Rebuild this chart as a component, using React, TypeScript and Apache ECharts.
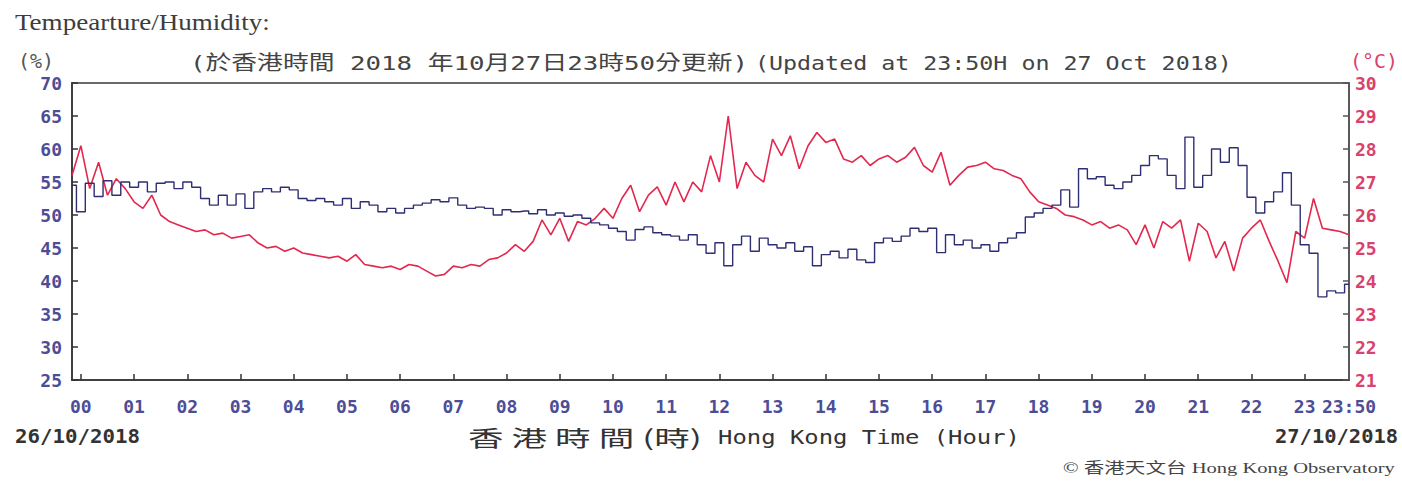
import React, { useEffect, useRef } from "react";
import * as echarts from "echarts";

// 10-minute samples from 23:50 (26/10 eve) to 23:50 (27/10)
const START_MINUTE = -10;
const STEP_MINUTES = 10;

const HUMIDITY = [
  54.5, 50.5, 54.8, 52.8, 55.2, 53.0, 55.0, 54.2, 55.0, 53.5,
  54.8, 55.0, 54.0, 55.0, 54.2, 52.5, 51.5, 53.0, 51.5, 53.2,
  51.0, 53.5, 54.0, 53.5, 54.2, 53.8, 52.5, 52.2, 52.5, 52.0,
  51.5, 52.5, 51.0, 52.0, 51.5, 50.5, 51.0, 50.3, 51.0, 51.5,
  51.8, 52.3, 52.0, 52.6, 51.5, 51.0, 51.2, 51.0, 50.0, 50.8,
  50.5, 50.6, 50.2, 50.8, 50.0, 50.3, 49.8, 50.0, 49.5, 48.8,
  48.5, 48.0, 47.5, 46.2, 47.8, 48.2, 47.3, 47.0, 46.8, 46.2,
  47.0, 45.5, 44.2, 45.8, 42.3, 45.5, 46.8, 44.5, 46.5, 45.5,
  45.0, 45.8, 44.5, 45.2, 42.3, 44.0, 44.5, 43.5, 44.8, 43.2,
  42.8, 45.8, 46.5, 46.0, 46.8, 48.0, 47.5, 48.0, 44.3, 47.0,
  45.5, 46.2, 45.0, 45.5, 44.5, 45.8, 46.5, 47.3, 49.7, 50.3,
  51.0, 51.5, 53.8, 51.2, 57.0, 55.5, 55.8, 54.5, 54.0, 55.0,
  56.0, 57.5, 59.0, 58.5, 56.0, 54.0, 61.8, 54.2, 56.0, 60.0,
  58.0, 60.2, 57.5, 52.7, 50.3, 52.0, 53.5, 56.4, 51.5, 45.5,
  44.2, 37.6, 38.5, 38.2, 39.5,
];

const TEMPERATURE = [
  27.2, 28.1, 26.8, 27.6, 26.6, 27.1, 26.8, 26.4, 26.2, 26.6,
  26.0, 25.8, 25.7, 25.6, 25.5, 25.55, 25.4, 25.45, 25.3, 25.35,
  25.4, 25.15, 25.0, 25.05, 24.9, 25.0, 24.85, 24.8, 24.75, 24.7,
  24.75, 24.6, 24.8, 24.5, 24.45, 24.4, 24.45, 24.35, 24.5, 24.45,
  24.3, 24.15, 24.2, 24.45, 24.4, 24.5, 24.45, 24.65, 24.7, 24.85,
  25.1, 24.9, 25.2, 25.85, 25.4, 25.9, 25.2, 25.8, 25.7, 25.9,
  26.2, 25.9, 26.5, 26.9, 26.1, 26.6, 26.85, 26.3, 27.0, 26.4,
  27.0, 26.7, 27.8, 27.0, 29.0, 26.8, 27.6, 27.2, 27.0, 28.3,
  27.8, 28.4, 27.4, 28.1, 28.5, 28.2, 28.3, 27.7, 27.6, 27.8,
  27.5, 27.7, 27.8, 27.6, 27.75, 28.05, 27.5, 27.3, 27.9, 26.9,
  27.2, 27.45, 27.5, 27.6, 27.4, 27.35, 27.2, 27.1, 26.7, 26.4,
  26.3, 26.2, 26.0, 25.95, 25.85, 25.7, 25.8, 25.6, 25.7, 25.55,
  25.1, 25.7, 25.0, 25.8, 25.6, 25.85, 24.6, 25.75, 25.5, 24.7,
  25.2, 24.3, 25.3, 25.6, 25.85, 25.2, 24.6, 23.95, 25.5, 25.3,
  26.5, 25.6, 25.55, 25.5, 25.4,
];

const HOUR_LABELS = [
  "00", "01", "02", "03", "04", "05", "06", "07", "08", "09", "10", "11",
  "12", "13", "14", "15", "16", "17", "18", "19", "20", "21", "22", "23",
];
const END_LABEL = "23:50";

const HUMIDITY_TICKS = [25, 70, 5];
const TEMP_TICKS = [21, 30, 1];

function pad2(n: number) {
  return (n < 10 ? "0" : "") + n;
}

const TIME_CATEGORIES: string[] = HUMIDITY.map((_, i) => {
  let m = START_MINUTE + i * STEP_MINUTES;
  if (m < 0) m += 1440;
  return pad2(Math.floor(m / 60)) + ":" + pad2(m % 60);
});

function isHourIndex(i: number) {
  const m = START_MINUTE + i * STEP_MINUTES;
  return m >= 0 && m % 60 === 0;
}

const MONO = "'DejaVu Sans Mono', 'Noto Sans CJK TC', monospace";
const CJK = "'Noto Sans CJK TC', 'DejaVu Sans Mono', sans-serif";

function fitScale(text: string, font: string, width: number) {
  const c = document.createElement("canvas").getContext("2d");
  if (!c) return 1;
  c.font = font;
  const w = c.measureText(text).width;
  return w > 0 ? width / w : 1;
}

function fittedText(text: string, font: string, left: number, right: number, cy: number, fill: string) {
  return {
    type: "text",
    x: left,
    y: cy,
    scaleX: fitScale(text, font, right - left),
    style: {
      text,
      font,
      fill,
      align: "left",
      verticalAlign: "middle",
      textAlign: "left",
      textVerticalAlign: "middle",
    },
  };
}

function plainText(text: string, font: string, left: number, cy: number, fill: string) {
  return {
    type: "text",
    x: left,
    y: cy,
    style: {
      text,
      font,
      fill,
      align: "left",
      verticalAlign: "middle",
      textAlign: "left",
      textVerticalAlign: "middle",
    },
  };
}

export default function App() {
  const ref = useRef<HTMLDivElement>(null);

  useEffect(() => {
    if (!ref.current) return;
    const chart = echarts.init(ref.current, null, { renderer: "svg" });
    const labelBlue = "#4d4d96";
    const labelRed = "#d9426c";

    const option = {
      animation: false,
      backgroundColor: "#ffffff",
      grid: {
        left: 72,
        right: 53,
        top: 83,
        bottom: 103,
        show: true,
        borderColor: "#6a6a6a",
        borderWidth: 2,
        backgroundColor: "transparent",
      },
      xAxis: {
        type: "category",
        data: TIME_CATEGORIES,
        boundaryGap: false,
        axisLine: { lineStyle: { color: "#333", width: 1.5 } },
        axisTick: {
          inside: true,
          length: 6,
          interval: (i: number) => isHourIndex(i),
          lineStyle: { color: "#333", width: 1.5 },
        },
        axisLabel: {
          interval: (i: number) => isHourIndex(i) || i === TIME_CATEGORIES.length - 1,
          formatter: (_v: string, i: number) => {
            if (i === TIME_CATEGORIES.length - 1) return END_LABEL;
            const m = START_MINUTE + i * STEP_MINUTES;
            return HOUR_LABELS[Math.floor(m / 60)];
          },
          color: labelBlue,
          fontFamily: "'DejaVu Sans Mono', monospace",
          fontWeight: "bold",
          fontSize: 18,
          margin: 17,
        },
        splitLine: { show: false },
      },
      yAxis: [
        {
          type: "value",
          min: HUMIDITY_TICKS[0],
          max: HUMIDITY_TICKS[1],
          interval: HUMIDITY_TICKS[2],
          position: "left",
          axisLine: { show: true, lineStyle: { color: "#333", width: 1.5 } },
          axisTick: { show: true, inside: true, length: 6, lineStyle: { color: "#333", width: 1.5 } },
          axisLabel: {
            color: labelBlue,
            fontFamily: "'DejaVu Sans Mono', monospace",
            fontWeight: "bold",
            fontSize: 18,
            margin: 10,
          },
          splitLine: { show: false },
        },
        {
          type: "value",
          min: TEMP_TICKS[0],
          max: TEMP_TICKS[1],
          interval: TEMP_TICKS[2],
          position: "right",
          axisLine: { show: true, lineStyle: { color: "#555", width: 1.5 } },
          axisTick: { show: true, inside: true, length: 6, lineStyle: { color: "#555", width: 1.5 } },
          axisLabel: {
            color: labelRed,
            fontFamily: "'DejaVu Sans Mono', monospace",
            fontWeight: "bold",
            fontSize: 18,
            margin: 6,
          },
          splitLine: { show: false },
        },
      ],
      series: [
        {
          name: "Humidity",
          type: "line",
          yAxisIndex: 0,
          data: HUMIDITY,
          step: "middle",
          showSymbol: false,
          lineStyle: { color: "#2e2e72", width: 1.4 },
          itemStyle: { color: "#2e2e72" },
          z: 3,
        },
        {
          name: "Temperature",
          type: "line",
          yAxisIndex: 1,
          data: TEMPERATURE,
          showSymbol: false,
          lineStyle: { color: "#e3284f", width: 1.6 },
          itemStyle: { color: "#e3284f" },
          z: 2,
        },
      ],
      graphic: [
        fittedText("Tempearture/Humidity:", "24px 'Liberation Serif', serif", 15, 270, 22, "#3d3d3d"),
        plainText("(%)", "20px 'DejaVu Sans Mono', monospace", 18, 61, "#555555"),
        fittedText("(於香港時間 2018 年10月27日23時50分更新)", "20px " + MONO, 190, 748, 63, "#444444"),
        fittedText("(Updated at 23:50H on 27 Oct 2018)", "20px " + MONO, 755, 1232, 63, "#444444"),
        fittedText("(°C)", "20px " + MONO, 1350, 1398, 61, labelRed),
        fittedText("26/10/2018", "bold 20px " + MONO, 15, 140, 436, "#333333"),
        fittedText("27/10/2018", "bold 20px " + MONO, 1275, 1398, 436, "#333333"),
        fittedText("香 港 時 間 (時)", "22px " + CJK, 468, 702, 437, "#333333"),
        fittedText("Hong Kong Time (Hour)", "19px " + MONO, 718, 1020, 437, "#333333"),
        fittedText("© 香港天文台 Hong Kong Observatory", "15px 'Liberation Serif', 'Noto Sans CJK TC', serif", 1063, 1395, 468, "#444444"),
      ],
    };

    chart.setOption(option as any);
    return () => chart.dispose();
  }, []);

  return (
    <div
      ref={ref}
      style={{ position: "fixed", left: 0, top: 0, width: 1402, height: 483, background: "#fff" }}
    />
  );
}
